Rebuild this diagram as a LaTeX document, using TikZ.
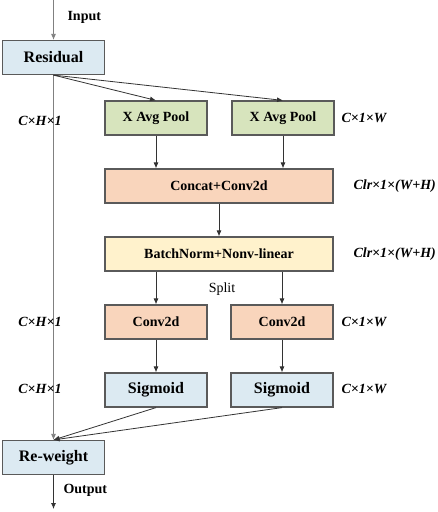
\documentclass[tikz,border=0pt]{standalone}
\usepackage{fontspec}
\setmainfont{Liberation Serif}
\usetikzlibrary{arrows.meta,positioning}
\definecolor{boxblue}{HTML}{DCEAF2}
\definecolor{boxgreen}{HTML}{D7E4BD}
\definecolor{boxpeach}{HTML}{F9D5BC}
\definecolor{boxyellow}{HTML}{FFF2CC}
\definecolor{boxline}{HTML}{5A5A5A}
\tikzset{
    block/.style={draw=boxline, line width=1.2pt, minimum width=102pt, minimum height=34pt,
        inner sep=0pt, font=\fontsize{14}{16}\selectfont\bfseries},
    bigblock/.style={block, font=\fontsize{16}{18}\selectfont\bfseries},
    widebox/.style={block, minimum width=228pt},
    dimlabel/.style={font=\fontsize{14}{16}\selectfont\bfseries\itshape},
    flow/.style={-{Latex[length=6pt,width=5pt]}, line width=0.8pt, black!80},
}
\begin{document}
\begin{tikzpicture}[x=1pt,y=-1pt]
        \useasboundingbox (0,0) rectangle (438,512);
        % Draw the blocks
        \node[bigblock, fill=boxblue] (res) at (53.5,57.5) {Residual};
        \node[block, fill=boxgreen] (xpool) at (156,118) {X Avg Pool};
        \node[block, fill=boxgreen] (ypool) at (283,118) {X Avg Pool};
        \node[widebox, fill=boxpeach] (cat) at (219,186) {Concat+Conv2d};
        \node[widebox, fill=boxyellow] (bn) at (219,254) {BatchNorm+Nonv-linear};
        \node[block, fill=boxpeach] (convh) at (156,322) {Conv2d};
        \node[block, fill=boxpeach] (convw) at (282,322) {Conv2d};
        \node[bigblock, fill=boxblue] (sigh) at (156,390) {Sigmoid};
        \node[bigblock, fill=boxblue] (sigw) at (282,390) {Sigmoid};
        \node[bigblock, fill=boxblue] (rew) at (53.5,457.5) {Re-weight};
        % Coordinates
        \coordinate (in) at (53.5,0);
        \coordinate (out) at (53.5,509);
        % Draw the arrows
        \draw[flow, gray] (in) -- (res.north);
        \draw[flow, gray] (res.south) -- (rew.north);
        \draw[flow] (res.south) -- (xpool.north);
        \draw[flow] (res.south) -- (ypool.north);
        \draw[flow] (xpool.south) -- (cat.north -| xpool);
        \draw[flow] (ypool.south) -- (cat.north -| ypool);
        \draw[flow] (cat.south) -- (bn.north);
        \draw[flow] (bn.south -| convh) -- (convh.north);
        \draw[flow] (bn.south -| convw) -- (convw.north);
        \draw[flow] (convh.south) -- (sigh.north);
        \draw[flow] (convw.south) -- (sigw.north);
        \draw[flow] (sigh.south) -- (rew.north);
        \draw[flow] (sigw.south) -- (rew.north);
        \draw[flow] (rew.south) -- (out);
        % Label the arrows
        \node[font=\fontsize{14}{16}\selectfont\bfseries, anchor=west] (inlbl) at (64,17) {Input};
        \node[font=\fontsize{14}{16}\selectfont\bfseries, anchor=west] (outlbl) at (60,490) {Output};
        \node[font=\fontsize{14}{16}\selectfont] (split) at (222,289) {Split};
        % Label the sizes
        \node[dimlabel] (d1) at (40,121) {C×H×1};
        \node[dimlabel] (d2) at (40,322) {C×H×1};
        \node[dimlabel] (d3) at (40,389) {C×H×1};
        \node[dimlabel, anchor=west] (d4) at (338,118) {C×1×W};
        \node[dimlabel, anchor=west] (d5) at (350,186) {Clr×1×(W+H)};
        \node[dimlabel, anchor=west] (d6) at (350,254) {Clr×1×(W+H)};
        \node[dimlabel, anchor=west] (d7) at (338,322) {C×1×W};
        \node[dimlabel, anchor=west] (d8) at (338,389) {C×1×W};
    \end{tikzpicture}
\end{document}
